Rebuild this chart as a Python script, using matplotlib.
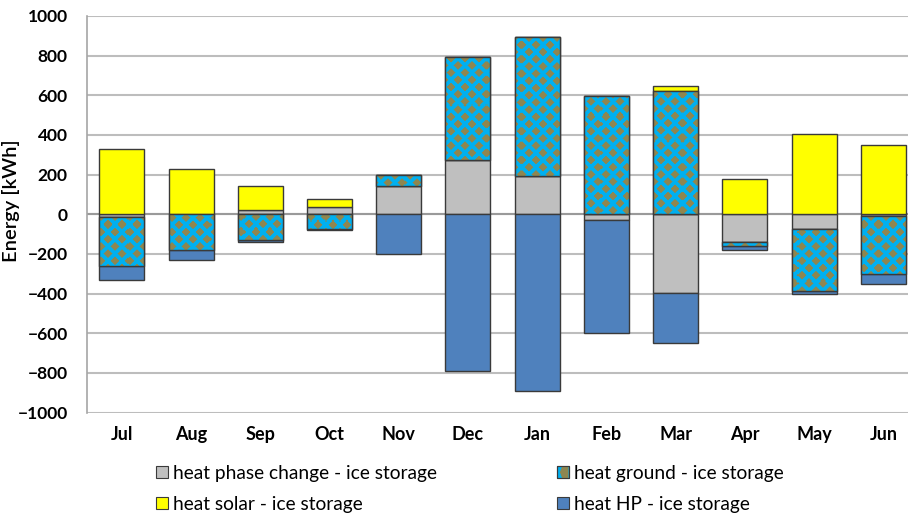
import numpy as np
import matplotlib
matplotlib.use("Agg")
import matplotlib.pyplot as plt
from matplotlib.patches import Rectangle, Polygon
from matplotlib.legend_handler import HandlerBase

plt.rcParams['font.family'] = ['Lato', 'DejaVu Sans']

# Monthly energy balance of the ice storage [kWh]
months = ["Jul", "Aug", "Sep", "Oct", "Nov", "Dec", "Jan", "Feb", "Mar", "Apr", "May", "Jun"]
phase_change = [-13, 0, 22, 35, 145, 273, 193, -27, -395, -142, -75, -8]
ground = [-250, -180, -132, -76, 55, 520, 700, 598, 622, -17, -311, -295]
solar = [330, 230, 120, 44, 0, 0, 0, 0, 25, 180, 405, 350]
heat_pump = [-67, -50, -8, -3, -200, -792, -893, -571, -252, -21, -17, -47]

labels = ["heat phase change - ice storage", "heat ground - ice storage",
          "heat solar - ice storage", "heat HP - ice storage"]
series = [phase_change, ground, solar, heat_pump]
colors = ["#BFBFBF", "#00B0F0", "#FFFF00", "#4F81BD"]
DIAMOND = "#8E8650"
EDGE = "#3A3A3A"

W, H, DPI = 908, 517, 100
fig = plt.figure(figsize=(W / DPI, H / DPI), dpi=DPI)
ax_l, ax_r, ax_t, ax_b = 87.2, 918.0, 16.0, 412.5
ax = fig.add_axes([ax_l / W, (H - ax_b) / H, (ax_r - ax_l) / W, (ax_b - ax_t) / H])

x = np.arange(len(months))
width = 0.65
pos_base = np.zeros(len(months))
neg_base = np.zeros(len(months))
containers = []
for vals, col in zip(series, colors):
    v = np.array(vals, dtype=float)
    bottom = np.where(v >= 0, pos_base, neg_base)
    bars = ax.bar(x, v, width, bottom=bottom, color=col, edgecolor=EDGE,
                  linewidth=1.0, zorder=2)
    containers.append((bars, v, bottom))
    pos_base = pos_base + np.where(v > 0, v, 0)
    neg_base = neg_base + np.where(v < 0, v, 0)

ax.set_xlim(-0.5, len(months) - 0.5)
ax.set_ylim(-1000, 1000)
ax.set_yticks(np.arange(-1000, 1001, 200))
ax.set_xticks(x)
ax.set_xticklabels(months)

# Diamond texture for the ground heat series, built in pixel space
pw = int(round(ax_r - ax_l))
ph = int(round(ax_b - ax_t))
yy, xx = np.mgrid[0:ph, 0:pw] + 0.5
PX, PY = 14.0, 14.4
d1 = np.abs((xx % PX) - PX / 2) + np.abs((yy % PY) - PY / 2)
d2 = np.abs(((xx + PX / 2) % PX) - PX / 2) + np.abs(((yy + PY / 2) % PY) - PY / 2)
dist = np.minimum(d1, d2)
# soft edge so the diamonds read as in a printed fill
alpha = np.clip(4.9 - dist, 0, 1)[..., None]
rgb_blue = np.array(matplotlib.colors.to_rgb(colors[1]))
rgb_dia = np.array(matplotlib.colors.to_rgb(DIAMOND))
tex = alpha * rgb_dia + (1 - alpha) * rgb_blue

gbars, gv, gb = containers[1]
for rect, val in zip(gbars, gv):
    if val == 0:
        continue
    im = ax.imshow(tex, extent=(-0.5, len(months) - 0.5, -1000, 1000),
                   origin="upper", aspect="auto", interpolation="nearest", zorder=2.1)
    im.set_clip_path(rect)
ax.bar(x, gv, width, bottom=gb, fill=False, edgecolor=EDGE, linewidth=1.0, zorder=2.2)
ax.set_xlim(-0.5, len(months) - 0.5)
ax.set_ylim(-1000, 1000)

ax.grid(axis="y", color="#BDBDBD", linewidth=1.5, zorder=0)
ax.axhline(0, color="#9A9A9A", linewidth=1.5, zorder=1)
ax.set_axisbelow(True)
for s in ["top", "right", "bottom"]:
    ax.spines[s].set_visible(False)
ax.spines["left"].set_color("#A6A6A6")
ax.spines["left"].set_linewidth(1.2)
ax.tick_params(axis="y", length=0, labelsize=12.5, pad=14)
ax.tick_params(axis="x", length=0, labelsize=13, pad=10)
for t in ax.get_xticklabels() + ax.get_yticklabels():
    t.set_fontweight("bold")
ax.set_ylabel("Energy [kWh]", fontsize=14.5, fontweight="semibold")
ax.yaxis.set_label_coords(-(ax_l - 20) / (ax_r - ax_l), (ax_b - 201) / (ax_b - ax_t))


class GroundHandler(HandlerBase):
    def create_artists(self, legend, orig_handle, xdescent, ydescent, width, height,
                       fontsize, trans):
        r = Rectangle((-xdescent, -ydescent), width, height, facecolor=colors[1],
                      edgecolor=EDGE, linewidth=0.8, transform=trans)
        p = Polygon([(-xdescent + width * 0.45, -ydescent), (-xdescent + width, -ydescent),
                     (-xdescent + width, -ydescent + height),
                     (-xdescent + width * 0.45, -ydescent + height),
                     (-xdescent + width * 0.25, -ydescent + height * 0.5)],
                    closed=True, facecolor=DIAMOND, edgecolor="none", transform=trans)
        b = Rectangle((-xdescent, -ydescent), width, height, fill=False,
                      edgecolor=EDGE, linewidth=0.8, transform=trans)
        return [r, p, b]


handles = [Rectangle((0, 0), 1, 1, facecolor=c, edgecolor=EDGE, linewidth=0.8) for c in colors]
common = dict(frameon=False, fontsize=13.8, handlelength=0.6, handleheight=0.6,
              handletextpad=0.3, labelspacing=0.72, borderaxespad=0, borderpad=0,
              loc="upper left", bbox_transform=fig.transFigure)
leg1 = fig.legend([handles[0], handles[2]], [labels[0], labels[2]],
                  bbox_to_anchor=(156 / W, 1 - 465 / H), **common)
leg2 = fig.legend([handles[1], handles[3]], [labels[1], labels[3]],
                  bbox_to_anchor=(557 / W, 1 - 465 / H),
                  handler_map={handles[1]: GroundHandler()}, **common)

fig.savefig("out.png", dpi=DPI)
